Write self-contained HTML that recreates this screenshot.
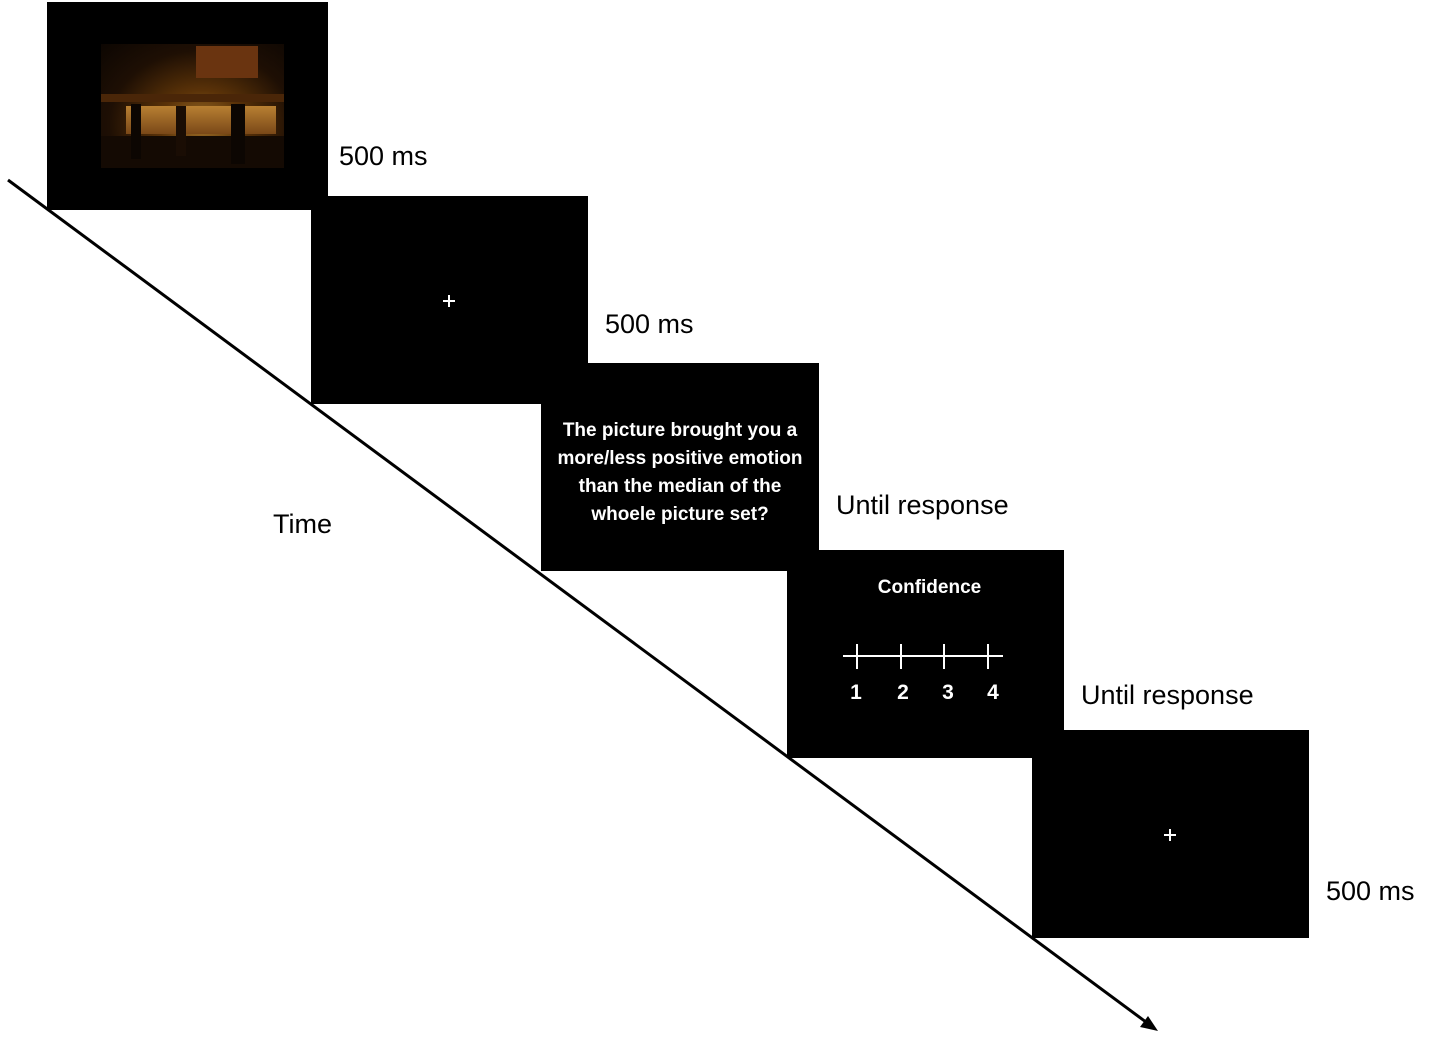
<!DOCTYPE html>
<html><head><meta charset="utf-8"><style>
html,body{margin:0;padding:0;background:#fff;width:1430px;height:1060px;overflow:hidden}
.b{position:absolute;background:#000}
.t{position:absolute;font-family:"Liberation Sans",sans-serif;font-size:27px;color:#000;white-space:nowrap}
.w{position:absolute;font-family:"Liberation Sans",sans-serif;color:#fff;font-weight:bold;text-align:center}
</style></head><body>
<div class="b" style="left:47px;top:2px;width:281px;height:208px"></div>
<div style="position:absolute;left:101px;top:44px;width:183px;height:124px;overflow:hidden;background:radial-gradient(ellipse at 55% 65%,#a07028 0%,#5a3208 30%,#1e0f04 65%,#0c0602 100%)">
 <div style="position:absolute;left:95px;top:2px;width:62px;height:32px;background:#6a3410"></div>
 <div style="position:absolute;left:0;top:50px;width:183px;height:8px;background:#4a2608"></div>
 <div style="position:absolute;left:25px;top:62px;width:150px;height:28px;background:linear-gradient(#b88032,#7a4818)"></div>
 <div style="position:absolute;left:0;top:92px;width:183px;height:32px;background:#140a03"></div>
 <div style="position:absolute;left:30px;top:60px;width:10px;height:55px;background:#0c0602"></div>
 <div style="position:absolute;left:130px;top:60px;width:14px;height:60px;background:#0c0602"></div>
 <div style="position:absolute;left:75px;top:62px;width:10px;height:50px;background:#1a0d04"></div>
</div>
<div class="b" style="left:311px;top:196px;width:277px;height:208px"></div>
<div class="b" style="left:541px;top:363px;width:278px;height:208px"></div>
<div class="b" style="left:787px;top:550px;width:277px;height:208px"></div>
<div class="b" style="left:1032px;top:730px;width:277px;height:208px"></div>
<svg style="position:absolute;left:0;top:0" width="1430" height="1060">
<line x1="8" y1="180" x2="1150" y2="1025" stroke="#000" stroke-width="3"/>
<polygon points="1158,1031 1140,1027 1148,1016" fill="#000"/>
<g stroke="#fff" stroke-width="2">
<line x1="443" y1="301" x2="455" y2="301"/><line x1="449" y1="295" x2="449" y2="307"/>
<line x1="1164" y1="835" x2="1176" y2="835"/><line x1="1170" y1="829" x2="1170" y2="841"/>
<line x1="843" y1="656" x2="1003" y2="656"/>
<line x1="857" y1="644" x2="857" y2="669"/><line x1="901" y1="644" x2="901" y2="669"/>
<line x1="944" y1="644" x2="944" y2="669"/><line x1="988" y1="644" x2="988" y2="669"/>
</g></svg>
<div class="t" style="left:339px;top:141px">500 ms</div>
<div class="t" style="left:605px;top:309px">500 ms</div>
<div class="t" style="left:836px;top:490px">Until response</div>
<div class="t" style="left:1081px;top:680px">Until response</div>
<div class="t" style="left:1326px;top:876px">500 ms</div>
<div class="t" style="left:273px;top:509px">Time</div>
<div class="w" style="left:541px;top:417px;width:278px;font-size:19px;line-height:28px">The picture brought you a<br>more/less positive emotion<br>than the median of the<br>whoele picture set?</div>
<div class="w" style="left:787px;top:577px;width:285px;font-size:19px">Confidence</div>
<div class="w" style="left:846px;top:681px;width:20px;font-size:21px">1</div>
<div class="w" style="left:893px;top:681px;width:20px;font-size:21px">2</div>
<div class="w" style="left:938px;top:681px;width:20px;font-size:21px">3</div>
<div class="w" style="left:983px;top:681px;width:20px;font-size:21px">4</div>
</body></html>
